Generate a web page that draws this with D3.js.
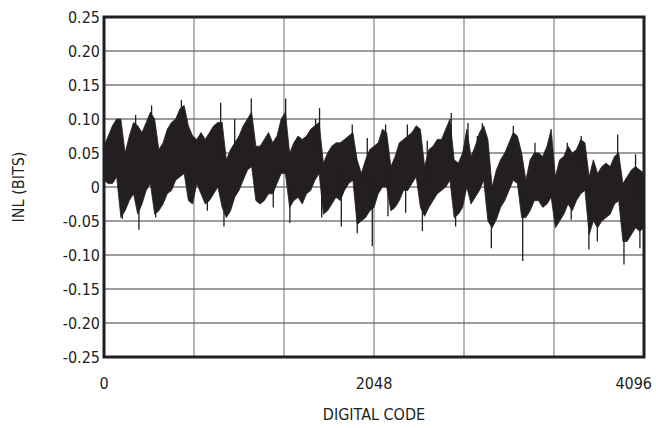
<!DOCTYPE html>
<html>
<head>
<meta charset="utf-8">
<script src="https://cdn.jsdelivr.net/npm/d3@7"></script>
<style>
  body { margin: 0; background: #fff; }
  text { font-family: "Liberation Sans Narrow", "DejaVu Sans Condensed", sans-serif; fill: #231f20; }
</style>
</head>
<body>
<svg id="chart" width="656" height="428"></svg>
<script>
// INL envelope, one sample every 32 codes (0..4096)
const codeStep = 32;
const inlHigh = [
  0.06, 0.075, 0.09, 0.10, 0.10, 0.05, 0.075, 0.095, 0.09, 0.08, 0.095, 0.11, 0.10, 0.055, 0.065, 0.085, 0.095, 0.10, 0.115, 0.12, 0.09, 0.075,
  0.07, 0.08, 0.07, 0.08, 0.09, 0.095, 0.095, 0.04, 0.055, 0.065, 0.075, 0.09, 0.10, 0.11, 0.06, 0.06, 0.07, 0.08, 0.065, 0.075, 0.10,
  0.11, 0.05, 0.065, 0.075, 0.07, 0.075, 0.085, 0.09, 0.095, 0.035, 0.05, 0.06, 0.065, 0.065, 0.07, 0.075, 0.08, 0.04, 0.02, 0.04, 0.055, 0.06,
  0.065, 0.085, 0.08, 0.03, 0.045, 0.065, 0.07, 0.075, 0.08, 0.09, 0.085, 0.03, 0.055, 0.06, 0.07, 0.07, 0.085, 0.10, 0.04, 0.035, 0.05,
  0.085, 0.045, 0.06, 0.08, 0.09, 0.07, 0.0, 0.025, 0.04, 0.05, 0.065, 0.08, 0.075, 0.05, 0.01, 0.04, 0.05, 0.05, 0.045, 0.06, 0.085,
  0.015, 0.04, 0.045, 0.06, 0.05, 0.055, 0.07, 0.065, 0.015, 0.04, 0.02, 0.03, 0.035, 0.03, 0.045, 0.05, 0.005, 0.015, 0.025, 0.03, 0.025, 0.02
];
const inlLow = [
  0.01, 0.005, 0.005, 0.015, -0.045, -0.035, -0.02, -0.01, -0.04, -0.025, -0.005, 0.005, -0.04, -0.035, -0.025, -0.01, -0.005, 0.01, 0.015, 0.02, -0.02, -0.025,
  0.005, -0.01, -0.025, -0.02, -0.01, 0.0, -0.03, -0.045, -0.035, -0.015, -0.005, 0.01, 0.025, 0.03, -0.02, -0.025, -0.02, -0.01, -0.01, 0.005, 0.02,
  0.02, -0.03, -0.02, -0.015, -0.025, -0.01, -0.005, 0.01, 0.02, -0.04, -0.035, -0.025, -0.015, -0.02, -0.005, 0.005, 0.01, -0.055, -0.05, -0.045, -0.035, -0.03,
  -0.01, 0.0, 0.0, -0.035, -0.03, -0.02, -0.005, -0.005, 0.005, 0.015, -0.03, -0.043, -0.03, -0.02, -0.01, -0.005, 0.0, 0.01, -0.045, -0.04, -0.03,
  0.0, -0.025, -0.015, -0.005, 0.01, -0.05, -0.06, -0.048, -0.03, -0.02, -0.005, 0.01, 0.005, -0.045, -0.045, -0.035, -0.02, -0.02, -0.03, -0.025, -0.015,
  -0.06, -0.05, -0.04, -0.025, -0.035, -0.02, -0.01, -0.005, -0.07, -0.05, -0.06, -0.05, -0.045, -0.04, -0.025, -0.02, -0.08, -0.08, -0.07, -0.06, -0.065, -0.06
];
// single-code spikes that stick out of the band
const spikeCodes = [139, 240, 265, 361, 392, 587, 784, 885, 910, 991, 1117, 1284,
  1378, 1410, 1605, 1635, 1651, 1800, 1883, 1921, 1997, 2035,
  2136, 2154, 2288, 2301, 2415, 2452, 2634, 2667,
  2761, 2832, 2870, 2938, 3105, 3176, 3269,
  3514, 3544, 3620, 3678, 3742, 3896, 3944, 4032, 4065];
const spikeValues = [-0.047, 0.106, -0.063, 0.12, -0.045, 0.128, -0.035, 0.124, -0.058, 0.10, 0.13, -0.03,
  0.13, -0.053, 0.10, 0.116, -0.045, -0.058, 0.092, -0.068, 0.072, -0.087,
  0.092, -0.043, -0.038, 0.092, -0.065, 0.068, 0.109, -0.058,
  0.094, 0.075, 0.094, -0.09, 0.09, -0.109, 0.065,
  0.065, -0.048, 0.075, -0.092, -0.08, 0.077, -0.114, 0.048, -0.09];

const yTicks = [0.25, 0.20, 0.15, 0.10, 0.05, 0, -0.05, -0.10, -0.15, -0.20, -0.25];
const yTickLabels = ["0.25", "0.20", "0.15", "0.10", "0.05", "0", "-0.05", "-0.10", "-0.15", "-0.20", "-0.25"];
const xGrid = [0, 682.67, 1365.33, 2048, 2730.67, 3413.33, 4096];
const xTickLabels = ["0", "2048", "4096"];

const svg = d3.select("#chart");
const pLeft = 104, pRight = 644, pTop = 17, pBottom = 357;
const ink = "#231f20";

const x = d3.scaleLinear().domain([0, 4096]).range([pLeft, pRight]);
const y = d3.scaleLinear().domain([-0.25, 0.25]).range([pBottom, pTop]);

// grid
svg.append("g").selectAll("line").data(yTicks.slice(1, -1)).enter().append("line")
  .attr("x1", pLeft).attr("x2", pRight)
  .attr("y1", d => y(d)).attr("y2", d => y(d))
  .attr("stroke", "#3a3a3a").attr("stroke-width", 1);
svg.append("g").selectAll("line").data(xGrid.slice(1, -1)).enter().append("line")
  .attr("y1", pTop).attr("y2", pBottom)
  .attr("x1", d => x(d)).attr("x2", d => x(d))
  .attr("stroke", "#6d6d6d").attr("stroke-width", 1);

svg.append("clipPath").attr("id", "plotClip").append("rect")
  .attr("x", pLeft).attr("y", pTop).attr("width", pRight - pLeft).attr("height", pBottom - pTop);

const trace = svg.append("g").attr("clip-path", "url(#plotClip)");

const band = inlHigh.map((h, i) => ({ code: i * codeStep, hi: h, lo: inlLow[i] }));
const area = d3.area()
  .x(d => x(d.code))
  .y0(d => y(d.lo))
  .y1(d => y(d.hi));
trace.append("path").datum(band).attr("d", area).attr("fill", ink).attr("stroke", ink).attr("stroke-width", 0.8);

// spikes start from the middle of the band at that code
function bandMid(code) {
  const i = Math.min(Math.floor(code / codeStep), band.length - 2);
  const t = code / codeStep - i;
  const h = inlHigh[i] + (inlHigh[i + 1] - inlHigh[i]) * t;
  const l = inlLow[i] + (inlLow[i + 1] - inlLow[i]) * t;
  return (h + l) / 2;
}
trace.selectAll("line.spike").data(spikeCodes).enter().append("line")
  .attr("class", "spike")
  .attr("x1", d => x(d)).attr("x2", d => x(d))
  .attr("y1", d => y(bandMid(d)))
  .attr("y2", (d, i) => y(spikeValues[i]))
  .attr("stroke", ink).attr("stroke-width", 1.3);

// frame
svg.append("rect").attr("x", pLeft).attr("y", pTop).attr("width", pRight - pLeft).attr("height", pBottom - pTop)
  .attr("fill", "none").attr("stroke", ink).attr("stroke-width", 3);

// y labels
svg.append("g").selectAll("text").data(yTicks).enter().append("text")
  .attr("x", 100).attr("y", d => y(d)).attr("dy", "0.35em")
  .attr("text-anchor", "end").attr("font-size", 16)
  .text((d, i) => yTickLabels[i]);

// x labels
const xLabelCodes = [0, 2048, 4096];
svg.append("g").selectAll("text").data(xLabelCodes).enter().append("text")
  .attr("x", d => x(d)).attr("y", 389)
  .attr("text-anchor", (d, i) => i === 2 ? "end" : "middle")
  .attr("dx", (d, i) => i === 2 ? 8 : 0)
  .attr("font-size", 16)
  .text((d, i) => xTickLabels[i]);

svg.append("text").attr("x", x(2048)).attr("y", 420).attr("text-anchor", "middle")
  .attr("font-size", 16).text("DIGITAL CODE");

svg.append("text").attr("transform", `translate(24,${y(0)}) rotate(-90)`)
  .attr("text-anchor", "middle").attr("font-size", 16).text("INL (BITS)");
</script>
</body>
</html>
